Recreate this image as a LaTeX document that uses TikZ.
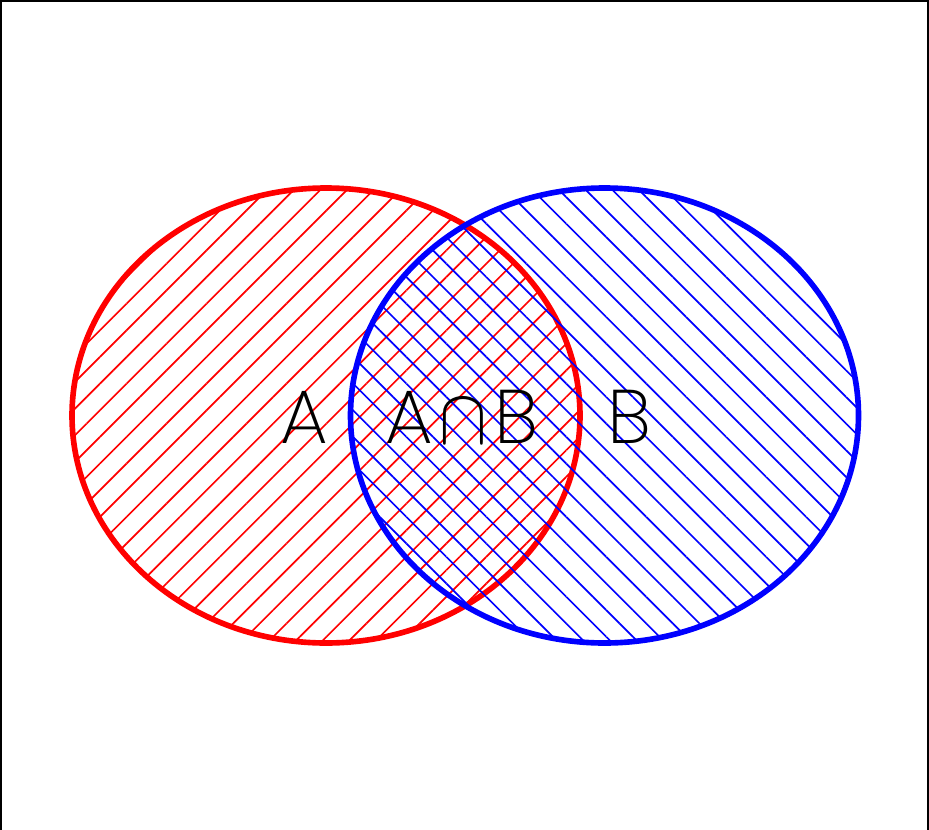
\documentclass[tikz,border=0pt]{standalone}
\usepackage{fontspec}
\setmainfont{Poppins}[UprightFont=* ExtraLight]
\usetikzlibrary{patterns.meta}

\tikzset{
  setline/.style={line width=4pt},
  setlabel/.style={anchor=base,inner sep=0pt,font=\fontsize{54}{60}\selectfont},
}
\newcommand{\bigcapsign}{{\fontsize{10}{12}\selectfont\scalebox{5.1}[5.6]{$\cap$}}}

\begin{document}
\begin{tikzpicture}[x=0.025cm,y=-0.025cm]
  \useasboundingbox (0,0) rectangle (929,830);
  % frame
  \draw[line width=1.4pt] (1,830) -- (1,1) -- (928,1) -- (928,830);
  % set A
  \draw[setline,red,pattern={Lines[angle=45,distance=13.4pt,line width=1.2pt]},pattern color=red]
    (326,415.5) ellipse [x radius=254, y radius=227.5];
  % set B
  \draw[setline,blue,pattern={Lines[angle=-45,distance=13.4pt,line width=1.2pt]},pattern color=blue]
    (604.5,415.5) ellipse [x radius=254, y radius=227.5];
  % labels
  \node[setlabel] (lblA) at (304,443) {A};
  \node[setlabel] (lblAB) at (462,443) {A\hspace{5pt}\bigcapsign\hspace{5pt}B};
  \node[setlabel] (lblB) at (629,443) {B};
\end{tikzpicture}
\end{document}
